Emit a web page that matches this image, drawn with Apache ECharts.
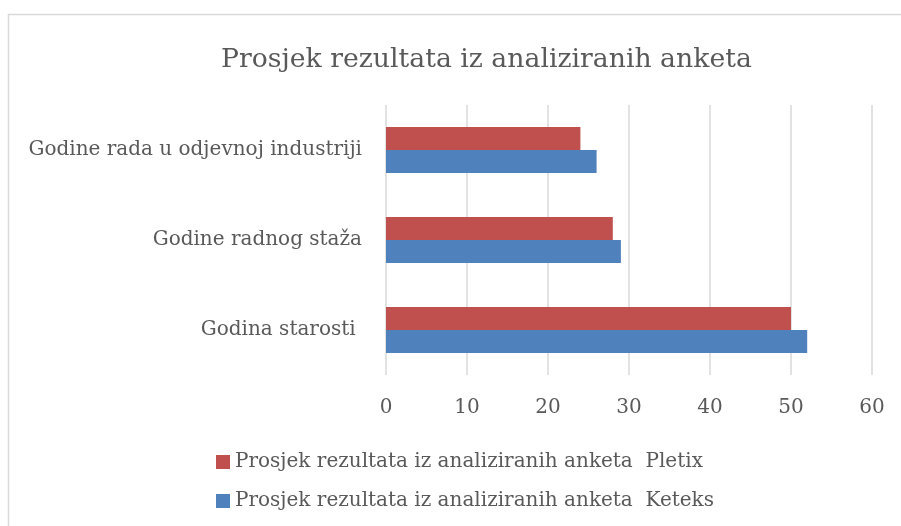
<!DOCTYPE html>
<html><head><meta charset="utf-8">
<script src="https://cdn.jsdelivr.net/npm/echarts@6/dist/echarts.min.js"></script>
<style>html,body{margin:0;padding:0;background:#fff}#c{width:901px;height:526px}</style>
</head><body><div id="c"></div>
<script>
const categories = ['Godina starosti ', 'Godine radnog staža', 'Godine rada u odjevnoj industriji'];
const pletix = [50, 28, 24];
const keteks = [52, 29, 26];
const seriesNames = ['Prosjek rezultata iz analiziranih anketa  Pletix', 'Prosjek rezultata iz analiziranih anketa  Keteks'];
const xTicks = {min: 0, max: 60, interval: 10};

const font = 'DejaVu Serif';
const txt = '#595959';
const chart = echarts.init(document.getElementById('c'));
chart.setOption({
  animation: false,
  title: {text: 'Prosjek rezultata iz analiziranih anketa', left: 216, top: 42,
    textStyle: {fontFamily: font, fontSize: 26.7, fontWeight: 'normal', color: txt}},
  graphic: [{type: 'rect', shape: {x: 8.5, y: 14.5, width: 1000, height: 1000},
    style: {fill: null, stroke: '#D9D9D9', lineWidth: 1.5}, z: -1}],
  grid: {left: 386, right: 29, top: 105, bottom: 151},
  legend: {orient: 'vertical', left: 211, top: 447, itemGap: 19, itemWidth: 14, itemHeight: 14,
    icon: 'rect', data: seriesNames,
    textStyle: {fontFamily: font, fontSize: 20, color: txt}},
  xAxis: {type: 'value', min: xTicks.min, max: xTicks.max, interval: xTicks.interval,
    axisLine: {show: false}, axisTick: {show: false},
    axisLabel: {fontFamily: font, fontSize: 20, color: txt, margin: 23},
    splitLine: {lineStyle: {color: '#D9D9D9', width: 1.5}}},
  yAxis: {type: 'category', data: categories,
    axisLine: {show: false}, axisTick: {show: false},
    axisLabel: {fontFamily: font, fontSize: 20, color: txt, margin: 24}},
  series: [
    {name: seriesNames[0], type: 'bar', data: pletix, barGap: '0%', barCategoryGap: '49%',
      itemStyle: {color: '#C0504D'}},
    {name: seriesNames[1], type: 'bar', data: keteks, barGap: '0%', barCategoryGap: '49%',
      itemStyle: {color: '#4F81BD'}}
  ]
});
</script></body></html>
